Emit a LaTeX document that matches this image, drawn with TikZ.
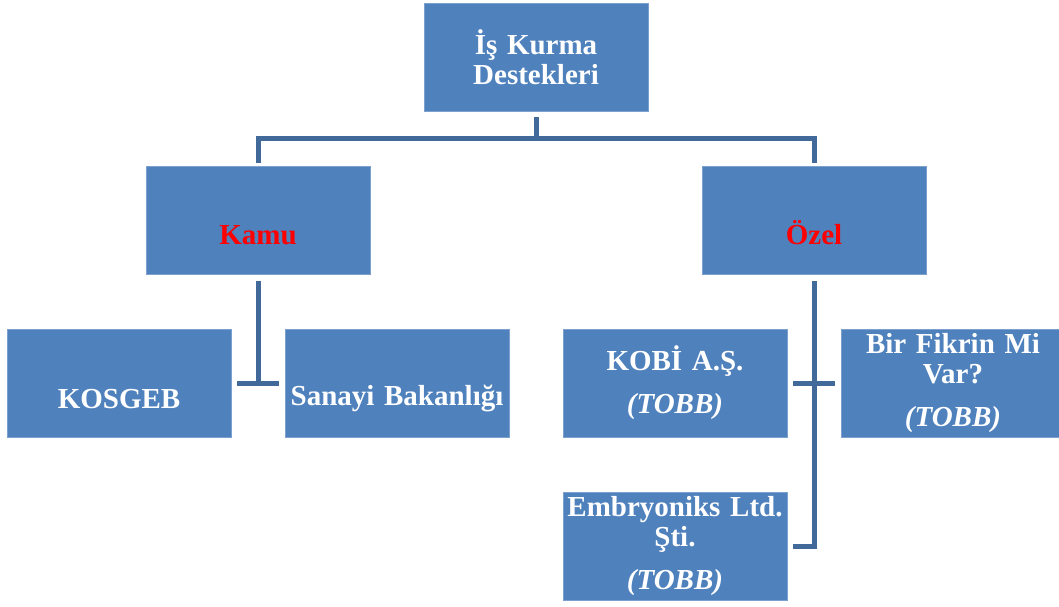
\documentclass[tikz,border=0pt]{standalone}
\usepackage{fontspec}
\setmainfont{Liberation Serif}
\usetikzlibrary{calc}

\definecolor{boxblue}{HTML}{4F81BD}
\definecolor{boxedge}{HTML}{7DA1CF}
\definecolor{linkblue}{HTML}{41699A}

\tikzset{
  box/.style={fill=boxblue, draw=boxedge, line width=0.8pt, minimum width=224pt,
    minimum height=108pt, text width=218pt, inner sep=2pt, align=center, text=white,
    font=\fontsize{29}{30}\selectfont\bfseries},
  head/.style={box, text=red},
  link/.style={draw=linkblue, line width=5pt, line join=miter}
}

\begin{document}
\begin{tikzpicture}[x=1pt,y=-1pt]
\useasboundingbox (0,0) rectangle (1059,607);

\node[box] (top) at (536,57) {İş Kurma\\Destekleri};
\node[head] (kamu) at (258,220.5) {\strut\\[6pt]\strut Kamu};
\node[head] (ozel) at (814,220.5) {\strut\\[6pt]\strut\smash{Özel}};

\node[box] (kosgeb) at (119,383) {\strut\\KOSGEB};
\node[box] (sanayi) at (397,383) {\strut\\Sanayi Bakanlığı};
\node[box] (kobi) at (675,383) {KOBİ A.Ş.\\[13pt]\textit{(TOBB)}};
\node[box] (fikir) at (953,383) {Bir Fikrin Mi\\Var?\\[13pt]\textit{(TOBB)}};
\node[box] (embr) at (675,546) {Embryoniks Ltd.\\Şti.\\[13pt]\textit{(TOBB)}};

\coordinate (bus) at (536,138);
\draw[link] ([yshift=-6pt]top.south) -- (bus);
\draw[link] ([yshift=3pt]kamu.north) |- (bus) -| ([yshift=3pt]ozel.north);

\draw[link] ([yshift=-6pt]kamu.south) -- (kamu.south |- kosgeb.east);
\draw[link] ([xshift=6pt]kosgeb.east) -- ([xshift=-6pt]sanayi.west);

\draw[link] ([yshift=-6pt]ozel.south) |- ([xshift=6pt]embr.east);
\draw[link] ([xshift=6pt]kobi.east) -- ([xshift=-6pt]fikir.west);
\end{tikzpicture}
\end{document}
